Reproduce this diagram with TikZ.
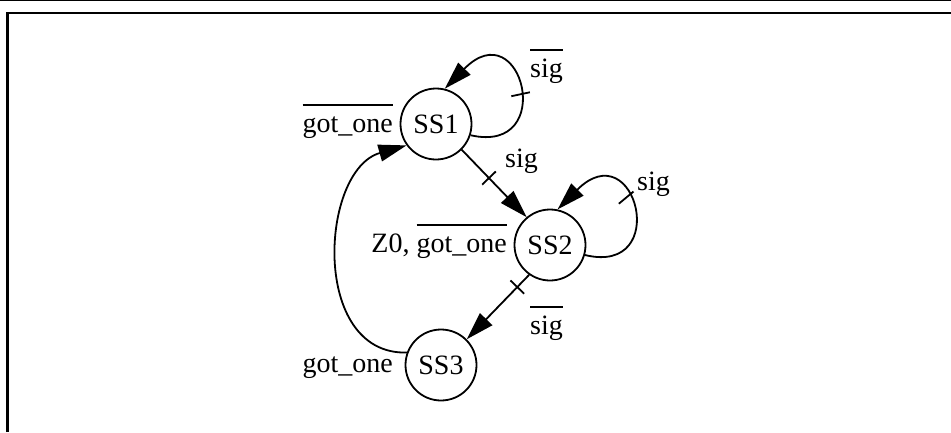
\documentclass[tikz,border=0pt]{standalone}
\usepackage{fontspec}
\setmainfont{Liberation Serif}
\usetikzlibrary{arrows.meta}
% text with a bar over it (negated signal)
\newcommand\olbar[1]{\vbox{\hrule height 1.6pt\kern 1pt\hbox{\rule{0pt}{25pt}#1}}}
\begin{document}
\begin{tikzpicture}[x=1pt,y=-1pt,
  state/.style={circle,draw,line width=1.8pt,minimum size=71pt,inner sep=0pt,font=\fontsize{28}{32}\selectfont},
  lbl/.style={inner sep=0pt,font=\fontsize{28}{32}\selectfont},
  edge/.style={line width=1.8pt,-{Triangle[length=28pt,width=17pt]}},
  tick/.style={sloped,draw,line width=1.8pt,minimum height=19pt,minimum width=0pt,inner sep=0pt,outer sep=0pt}]
  \fill[white] (0,0) rectangle (951,432);
  \useasboundingbox (0,0) rectangle (951,432);
  % frame
  \draw[line width=1.2pt] (0,0.8) -- (951,0.8);
  \draw[line width=2.2pt] (7.5,432) -- (7.5,13.3) -- (951,13.3);

  % states
  \node[state] (SS1) at (436,124) {SS1};
  \node[state] (SS2) at (550,245) {SS2};
  \node[state] (SS3) at (441,365) {SS3};

  % transitions
  \draw[edge] (SS1.-18) .. controls (558,155) and (522,10) .. (SS1.76) node[tick,pos=0.47]{};
  \draw[edge] (SS1.-45) -- (SS2.130) node[tick,pos=0.42]{};
  \draw[edge] (SS2.-16) .. controls (672,276) and (636,131) .. (SS2.78) node[tick,pos=0.6]{};
  \draw[edge] (SS2.235) -- (SS3.45) node[tick,pos=0.19]{};
  \draw[edge] (SS3.160) .. controls (310,355) and (320,170) .. (SS1.216);

  % labels
  \node[lbl,anchor=base west] (l1) at (530,77) {\olbar{sig}};
  \node[lbl,anchor=base east] (l2) at (393,132) {\olbar{got\_one}};
  \node[lbl,anchor=base west] (l3) at (505,167) {sig};
  \node[lbl,anchor=base west] (l4) at (637,190) {sig};
  \node[lbl,anchor=base east] (l5) at (507,252) {Z0, \olbar{got\_one}};
  \node[lbl,anchor=base west] (l6) at (530,334) {\olbar{sig}};
  \node[lbl,anchor=base east] (l7) at (393,372) {got\_one};
\end{tikzpicture}
\end{document}
